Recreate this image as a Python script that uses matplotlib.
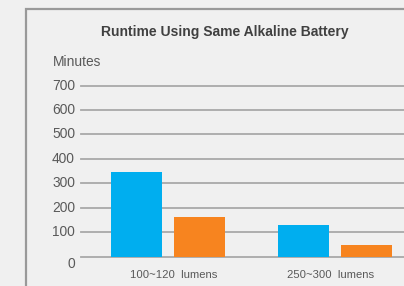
import matplotlib.pyplot as plt
import matplotlib.patches as mpatches
import numpy

plt.rcParams['font.family'] = ['Liberation Sans', 'DejaVu Sans']

# chart data
categories = ['100~120  lumens', '250~300  lumens']
series_a = [345, 129]   # blue
series_b = [162, 47]    # orange
y_ticks = [0, 100, 200, 300, 400, 500, 600, 700]

bg = '#f0f0f0'
grid_col = '#a8a8a8'
txt_col = '#595959'

fig = plt.figure(figsize=(4.04, 2.86), dpi=100, facecolor=bg)

# outer frame (only left and top edges visible)
frame = mpatches.Rectangle((25.5 / 404, -0.1), 1.0, (286 - 8.5) / 286 + 0.1,
                           transform=fig.transFigure, fill=False,
                           edgecolor='#999999', linewidth=1.6)
fig.patches.append(frame)

# axes: x from px 81 to 404, y0 at px 256.5, y700 at px 85.5
ax = fig.add_axes([81 / 404, (286 - 256.5) / 286, (404 - 81) / 404, 171 / 286])
ax.set_facecolor(bg)

x = numpy.arange(len(categories))
w = 0.305
ax.bar(x - 0.19, series_a, w, color='#00aeef', zorder=3)
ax.bar(x + 0.19, series_b, w, color='#f7841f', zorder=3)

ax.set_xlim(-0.521, 1.413)
ax.set_ylim(0, 700)
for v in y_ticks:
    ax.axhline(v, color=grid_col, linewidth=1.3, zorder=1, clip_on=False)

ax.set_yticks([])
ax.set_xticks([])
for s in ax.spines.values():
    s.set_visible(False)

# y tick labels (0 sits below the baseline)
for v in y_ticks:
    off = -7 if v == 0 else 0
    ax.annotate(str(v), xy=(0, v), xycoords=('axes fraction', 'data'),
                xytext=(-6, off), textcoords='offset pixels',
                ha='right', va='center', fontsize=9.9, color=txt_col)

# category labels are not quite centred under the groups in the original
label_shift = [6, -4]
for i, c in enumerate(categories):
    ax.annotate(c, xy=(x[i], 0), xycoords='data', xytext=(label_shift[i], -18.2),
                textcoords='offset pixels', ha='center', va='center',
                fontsize=8.1, color=txt_col, annotation_clip=False)

fig.text(224.5 / 404, 1 - 32 / 286, 'Runtime Using Same Alkaline Battery',
         ha='center', va='center', fontsize=10, fontweight='bold', color='#404040')
fig.text(52.5 / 404, 1 - 62 / 286, 'Minutes', ha='left', va='center',
         fontsize=9.9, color=txt_col)

fig.savefig('out.png', dpi=100, facecolor=bg)
